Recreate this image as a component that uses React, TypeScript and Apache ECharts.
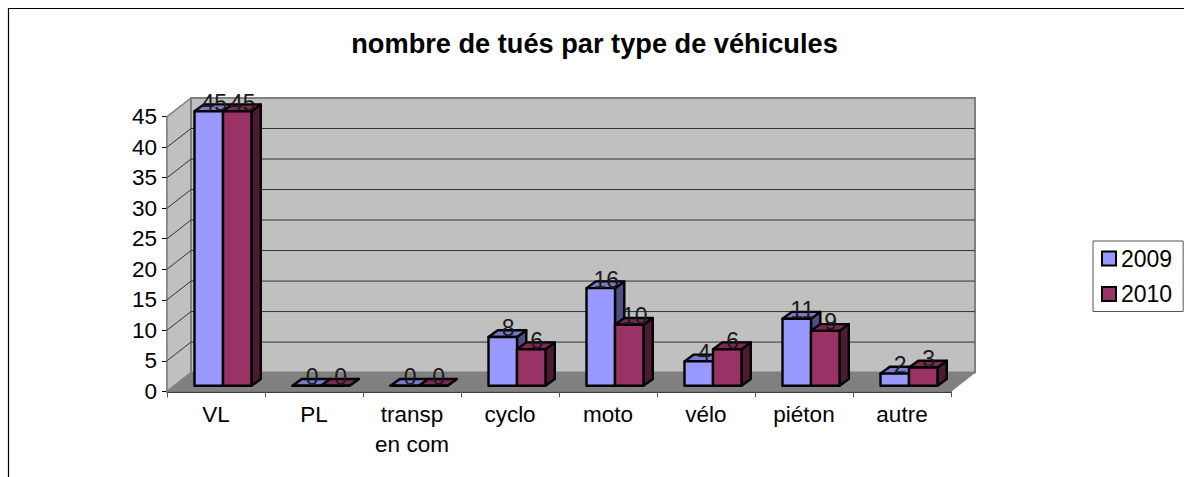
import React, { useEffect, useRef } from "react";
import * as echarts from "echarts";

const categories = ["VL", "PL", "transp\nen com", "cyclo", "moto", "vélo", "piéton", "autre"];
const values2009 = [45, 0, 0, 8, 16, 4, 11, 2];
const values2010 = [45, 0, 0, 6, 10, 6, 9, 3];
const yTicks = [0, 5, 10, 15, 20, 25, 30, 35, 40, 45];
const titleText = "nombre de tués par type de véhicules";

const FONT = "Liberation Sans, Arial, sans-serif";
const DEPTH_X = 24;
const DEPTH_Y = 18.7;
const BAR_W = 28.5;
const BAR_DX = 9.3;
const BAR_DY = 6.8;
const FLOOR_DX = 4;
const FLOOR_DY = 5.5;

const C2009 = "#9999ff";
const C2009_TOP = "#7a7acc";
const C2009_SIDE = "#4f4f85";
const C2010 = "#993366";
const C2010_TOP = "#7a2952";
const C2010_SIDE = "#4d1a33";

function wallsRender(_p: any, api: any) {
  const [x0, y0] = api.coord([0, 0]);
  const band = api.size([1, 0])[0];
  const left = x0 - band / 2;
  const right = left + band * categories.length;
  const top = api.coord([0, 45])[1];
  const line = "#808080";
  const children: any[] = [
    { type: "polygon", shape: { points: [[left, y0], [left + DEPTH_X, y0 - DEPTH_Y], [left + DEPTH_X, top - DEPTH_Y], [left, top]] }, style: { fill: "#c0c0c0", stroke: line, lineWidth: 1.5 } },
    { type: "polygon", shape: { points: [[left + DEPTH_X, y0 - DEPTH_Y], [right + DEPTH_X, y0 - DEPTH_Y], [right + DEPTH_X, top - DEPTH_Y], [left + DEPTH_X, top - DEPTH_Y]] }, style: { fill: "#c0c0c0", stroke: line, lineWidth: 2 } },
    { type: "polygon", shape: { points: [[left, y0], [right, y0], [right + DEPTH_X, y0 - DEPTH_Y], [left + DEPTH_X, y0 - DEPTH_Y]] }, style: { fill: "#808080", stroke: "#808080", lineWidth: 1 } },
  ];
  yTicks.slice(1, -1).forEach((t) => {
    const y = api.coord([0, t])[1];
    children.push({ type: "polyline", shape: { points: [[left, y], [left + DEPTH_X, y - DEPTH_Y], [right + DEPTH_X, y - DEPTH_Y]] }, style: { fill: "none", stroke: "#333333", lineWidth: 1 } });
  });
  return { type: "group", children };
}

function makeBarRender(side: number, front: string, topC: string, sideC: string) {
  return (_p: any, api: any) => {
    const idx = api.value(0);
    const val = api.value(1);
    const [cx, yBase] = api.coord([idx, 0]);
    const yVal = api.coord([idx, val])[1];
    const xl = cx + FLOOR_DX + (side < 0 ? -BAR_W : 0) + 3;
    const xr = xl + BAR_W;
    const b = yBase - FLOOR_DY;
    const t = yVal - FLOOR_DY;
    const st = { stroke: "#000000", lineWidth: 2.4, lineJoin: "round" };
    const kids: any[] = [
      { type: "polygon", shape: { points: [[xr, t], [xr + BAR_DX, t - BAR_DY], [xr + BAR_DX, b - BAR_DY], [xr, b]] }, style: { fill: sideC, ...st } },
      { type: "polygon", shape: { points: [[xl, t], [xl + BAR_DX, t - BAR_DY], [xr + BAR_DX, t - BAR_DY], [xr, t]] }, style: { fill: topC, ...st } },
      { type: "rect", shape: { x: xl, y: t, width: BAR_W, height: b - t }, style: { fill: front, ...st } },
      { type: "text", style: { text: String(val), x: (xl + xr) / 2 + 5.5, y: t + 3, align: "center", verticalAlign: "bottom", fill: "#1a1a1a", font: `23px ${FONT}` } },
    ];
    return { type: "group", children: kids };
  };
}

export default function App() {
  const ref = useRef<HTMLDivElement>(null);
  useEffect(() => {
    const chart = echarts.init(ref.current!, null, { renderer: "svg" });
    chart.setOption({
      animation: false,
      backgroundColor: "#ffffff",
      textStyle: { fontFamily: FONT },
      title: {
        text: titleText,
        left: 589.5,
        top: 25,
        textAlign: "center",
        textStyle: { fontFamily: FONT, fontWeight: "bold", fontSize: 27.2, color: "#000000" },
      },
      grid: { left: 167, top: 116.7, width: 784, height: 274.6 },
      xAxis: {
        type: "category",
        data: categories,
        axisLine: { lineStyle: { color: "#000000", width: 1.5 } },
        axisTick: { show: true, length: 6, alignWithLabel: false, lineStyle: { color: "#555555" } },
        axisLabel: { fontFamily: FONT, fontSize: 22.5, color: "#000000", margin: 8.5, lineHeight: 30 },
        splitLine: { show: false },
      },
      yAxis: {
        type: "value",
        min: 0,
        max: 45,
        interval: 5,
        axisLine: { show: true, lineStyle: { color: "#808080", width: 1.5 } },
        axisTick: { show: true, length: 5, lineStyle: { color: "#000000" } },
        axisLabel: { fontFamily: FONT, fontSize: 22.5, color: "#000000", margin: 10 },
        splitLine: { show: false },
      },
      legend: {
        orient: "vertical",
        left: 1093,
        top: 241,
        padding: [6, 11, 6, 8],
        itemGap: 12.5,
        itemWidth: 14,
        itemHeight: 14,
        borderColor: "#555555",
        borderWidth: 1,
        icon: "rect",
        textStyle: { fontFamily: FONT, fontSize: 23, color: "#000000" },
        data: [
          { name: "2009", itemStyle: { color: C2009, borderColor: "#000", borderWidth: 2 } },
          { name: "2010", itemStyle: { color: C2010, borderColor: "#000", borderWidth: 2 } },
        ],
      },
      graphic: [
        { type: "rect", shape: { x: 8.5, y: 8.5, width: 1200, height: 500 }, style: { fill: "none", stroke: "#000000", lineWidth: 1.2 }, silent: true, z: 0 },
      ],
      series: [
        { type: "custom", name: "murs", renderItem: wallsRender, data: [[0, 0]], encode: { x: 0, y: 1 }, z: 1, silent: true, clip: false },
        { type: "custom", name: "2009", color: C2009, renderItem: makeBarRender(-1, C2009, C2009_TOP, C2009_SIDE), data: values2009.map((v, i) => [i, v]), encode: { x: 0, y: 1 }, z: 2, clip: false },
        { type: "custom", name: "2010", color: C2010, renderItem: makeBarRender(1, C2010, C2010_TOP, C2010_SIDE), data: values2010.map((v, i) => [i, v]), encode: { x: 0, y: 1 }, z: 3, clip: false },
      ],
    });
    return () => chart.dispose();
  }, []);
  return <div ref={ref} style={{ position: "fixed", left: 0, top: 0, width: 1184, height: 477 }} />;
}
